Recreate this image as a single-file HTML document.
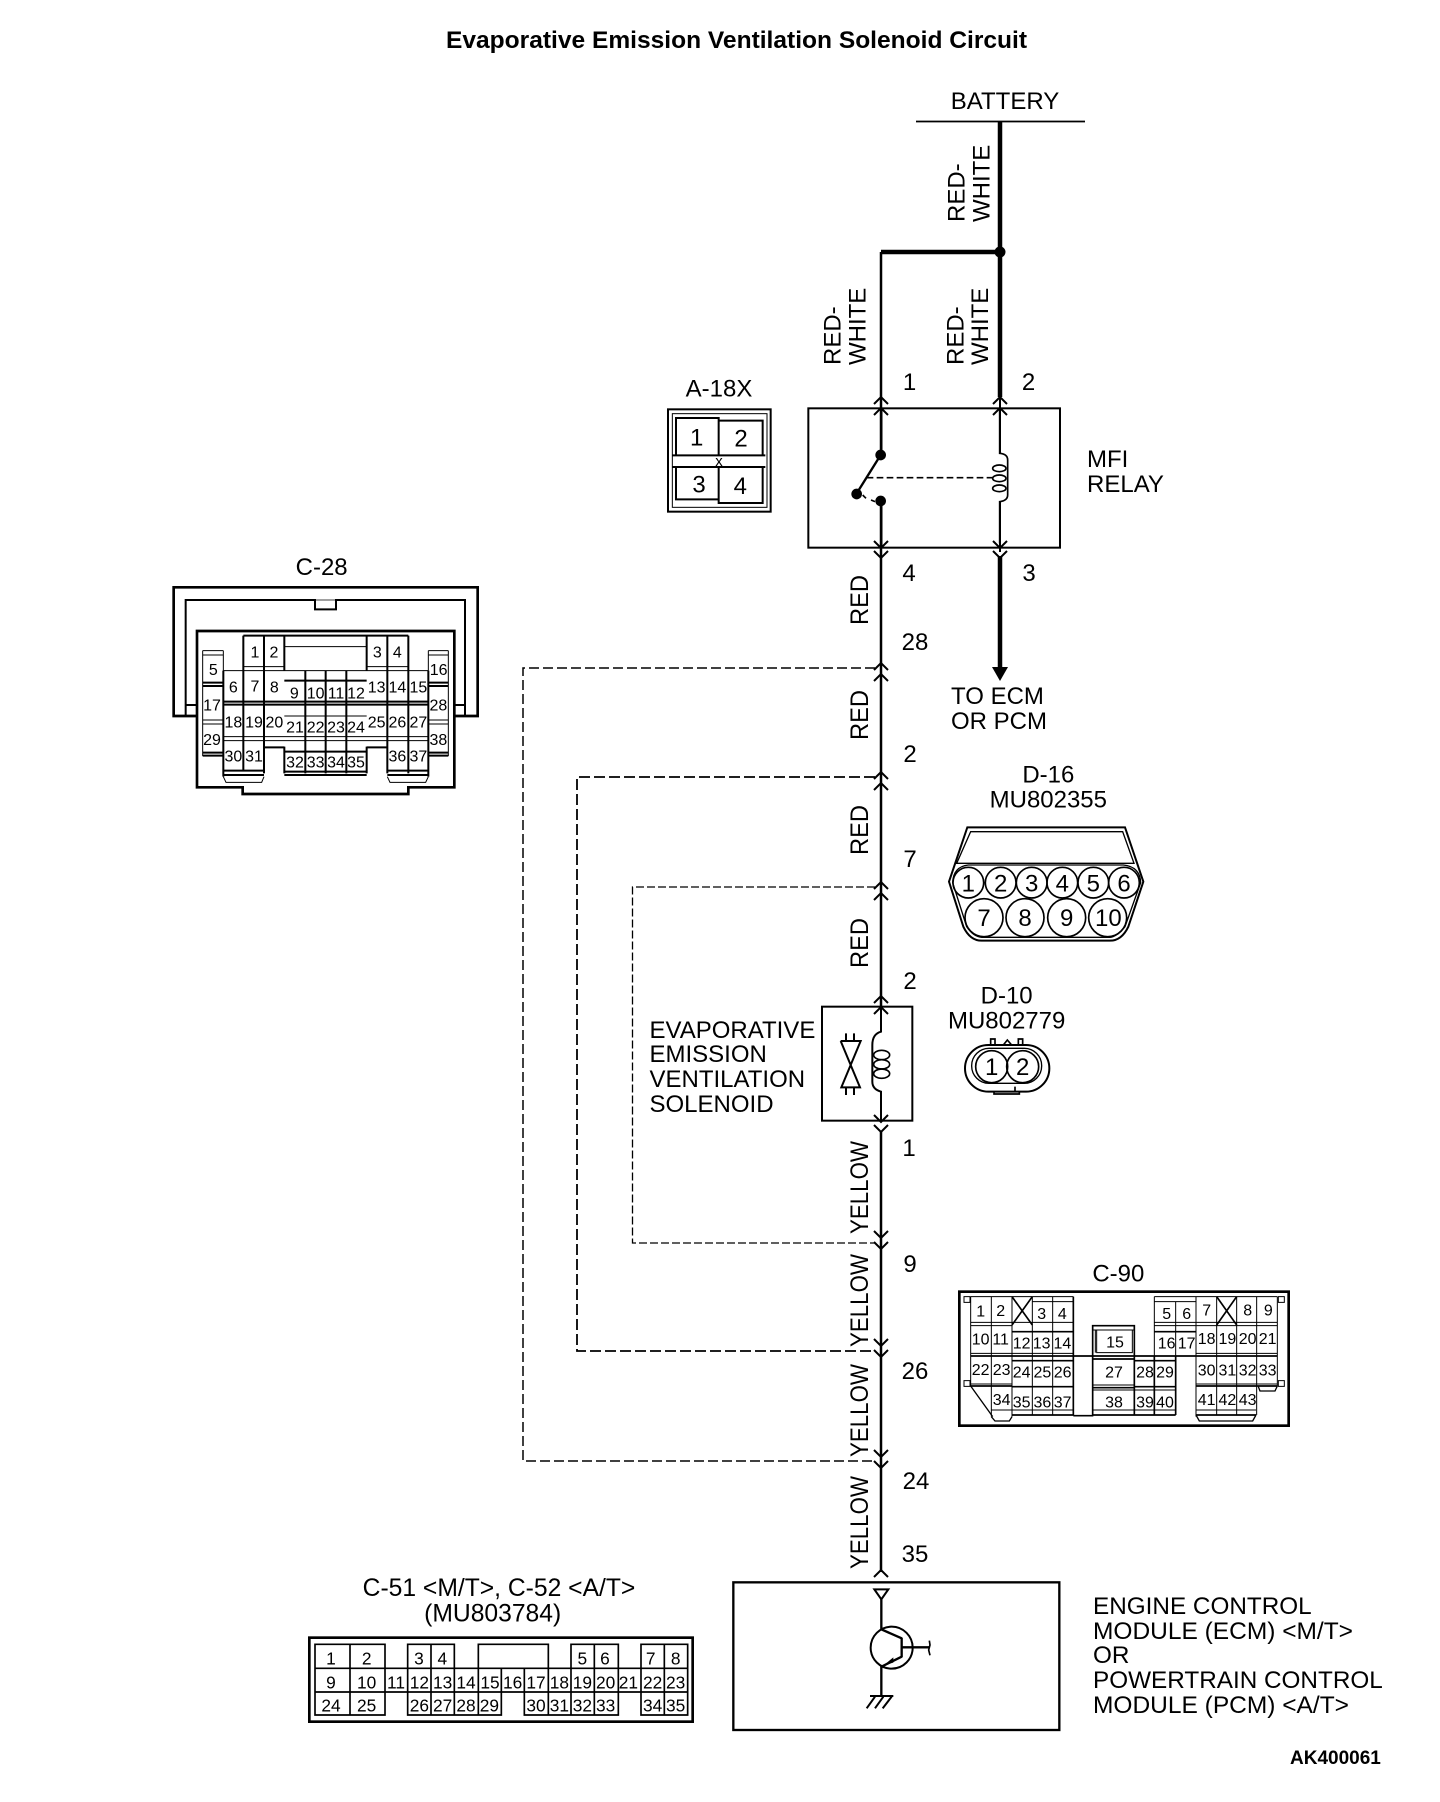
<!DOCTYPE html>
<html>
<head>
<meta charset="utf-8">
<title>Evaporative Emission Ventilation Solenoid Circuit</title>
<style>
html,body{margin:0;padding:0;background:#fff}
svg{display:block}
text{font-family:"Liberation Sans",sans-serif;fill:#000}
.m text{text-anchor:middle}
.n{fill:none;stroke:#000}
.t5{fill:none;stroke:#000;stroke-width:6}
.t3{fill:none;stroke:#000;stroke-width:3}
</style>
</head>
<body>
<svg xmlns="http://www.w3.org/2000/svg" width="1440" height="1802" viewBox="0 0 1440 1802">
<rect width="1440" height="1802" fill="#fff"/>
<defs>
<path id="up" d="M-7,7 L0,0 L7,7" fill="none" stroke="#000" stroke-width="2"/>
<path id="dn" d="M-7,-7 L0,0 L7,-7" fill="none" stroke="#000" stroke-width="2"/>
</defs>

<text x="736.500" y="48" font-size="24" font-weight="bold" text-anchor="middle" textLength="581" lengthAdjust="spacingAndGlyphs">Evaporative Emission Ventilation Solenoid Circuit</text>
<text x="1005" y="109" font-size="24" text-anchor="middle">BATTERY</text>
<line x1="916" y1="121.500" x2="1085" y2="121.500" stroke="#000" stroke-width="1.800"/>

<!-- main wires -->
<path class="n" stroke-width="4.500" d="M1000,121V397M881,252H1000"/>
<circle cx="1000" cy="252" r="5.500"/>
<path class="n" stroke-width="2.500" d="M881,252V455M881,501V1007"/>
<path class="n" stroke-width="2.500" d="M881,1132V1572"/>
<path class="n" stroke-width="2" d="M1000,397V453M1000,502V552"/>
<path class="n" stroke-width="4.500" d="M1000,556V668"/>
<polygon points="992,667 1008,667 1000,681"/>

<!-- rotated labels -->
<g font-size="24">
<text transform="translate(964.500,222) rotate(-90)">RED-</text>
<text transform="translate(989.500,222) rotate(-90)">WHITE</text>
<text transform="translate(840.500,365) rotate(-90)">RED-</text>
<text transform="translate(865.500,365) rotate(-90)">WHITE</text>
<text transform="translate(963.500,365) rotate(-90)">RED-</text>
<text transform="translate(988,365) rotate(-90)">WHITE</text>
<text transform="translate(868,625) rotate(-90)" font-size="25" textLength="50" lengthAdjust="spacingAndGlyphs">RED</text>
<text transform="translate(868,740) rotate(-90)" font-size="25" textLength="50" lengthAdjust="spacingAndGlyphs">RED</text>
<text transform="translate(868,855) rotate(-90)" font-size="25" textLength="50" lengthAdjust="spacingAndGlyphs">RED</text>
<text transform="translate(868,968) rotate(-90)" font-size="25" textLength="50" lengthAdjust="spacingAndGlyphs">RED</text>
<text transform="translate(868,1234) rotate(-90)" font-size="25" textLength="93" lengthAdjust="spacingAndGlyphs">YELLOW</text>
<text transform="translate(868,1347) rotate(-90)" font-size="25" textLength="93" lengthAdjust="spacingAndGlyphs">YELLOW</text>
<text transform="translate(868,1457) rotate(-90)" font-size="25" textLength="93" lengthAdjust="spacingAndGlyphs">YELLOW</text>
<text transform="translate(868,1569) rotate(-90)" font-size="25" textLength="93" lengthAdjust="spacingAndGlyphs">YELLOW</text>
</g>

<!-- wire numbers -->
<g font-size="24" class="m">
<text x="909.500" y="390">1</text>
<text x="1028.500" y="390">2</text>
<text x="909" y="581">4</text>
<text x="1029" y="581">3</text>
<text x="915" y="650">28</text>
<text x="910" y="762">2</text>
<text x="910" y="867">7</text>
<text x="910" y="989">2</text>
<text x="909" y="1156">1</text>
<text x="910" y="1272">9</text>
<text x="915" y="1379">26</text>
<text x="916" y="1489">24</text>
<text x="915" y="1562">35</text>
</g>
<g font-size="24">
<text x="1087" y="467">MFI</text>
<text x="1087" y="492">RELAY</text>
<text x="951" y="704">TO ECM</text>
<text x="951" y="729">OR PCM</text>
<text x="649.500" y="1038">EVAPORATIVE</text>
<text x="649.500" y="1062">EMISSION</text>
<text x="649.500" y="1087">VENTILATION</text>
<text x="649.500" y="1112">SOLENOID</text>
<text x="1093" y="1614" font-size="24.300">ENGINE CONTROL</text>
<text x="1093" y="1639" font-size="24.300" textLength="260" lengthAdjust="spacingAndGlyphs">MODULE (ECM) &lt;M/T&gt;</text>
<text x="1093" y="1663" font-size="24.300">OR</text>
<text x="1093" y="1688" font-size="24.300">POWERTRAIN CONTROL</text>
<text x="1093" y="1713" font-size="24.300" textLength="256" lengthAdjust="spacingAndGlyphs">MODULE (PCM) &lt;A/T&gt;</text>
</g>
<text x="1290" y="1764" font-size="19" font-weight="bold">AK400061</text>

<!-- dashed loops -->
<path class="n" stroke-width="1.500" stroke-dasharray="10 4" d="M875,668H523V1461H875"/>
<path class="n" stroke-width="1.800" stroke-dasharray="11 4" d="M875,777H577V1351H875"/>
<path class="n" stroke-width="1.300" stroke-dasharray="8 3" d="M875,887H632.500V1243H875"/>

<!-- chevrons -->
<use href="#up" x="881" y="397"/><use href="#up" x="881" y="408"/>
<use href="#up" x="1000" y="397"/><use href="#up" x="1000" y="408"/>
<use href="#dn" x="881" y="548"/><use href="#dn" x="881" y="558"/>
<use href="#dn" x="1000" y="548"/><use href="#dn" x="1000" y="558"/>
<use href="#up" x="881" y="663"/><use href="#up" x="881" y="674"/>
<use href="#up" x="881" y="772"/><use href="#up" x="881" y="783"/>
<use href="#up" x="881" y="882"/><use href="#up" x="881" y="893"/>
<use href="#up" x="881" y="996"/><use href="#up" x="881" y="1007"/>
<use href="#dn" x="881" y="1238"/><use href="#dn" x="881" y="1249"/>
<use href="#dn" x="881" y="1122"/><use href="#dn" x="881" y="1132"/>
<use href="#dn" x="881" y="1346"/><use href="#dn" x="881" y="1357"/>
<use href="#dn" x="881" y="1457"/><use href="#dn" x="881" y="1468"/>
<use href="#up" x="881" y="1570"/>

<!-- A-18X + relay, zoom coords -->
<g transform="translate(640,380) scale(.33333)">
<g class="m" font-size="72">
<text x="237" y="50">A-18X</text>
<text x="170" y="197">1</text><text x="303" y="200">2</text>
<text x="177" y="338">3</text><text x="301" y="342">4</text>
<text x="237" y="258" font-size="45">x</text>
</g>
<rect x="84" y="88" width="308" height="307" class="t5"/>
<rect x="97" y="101" width="284" height="281" class="t3"/>
<path class="t5" stroke-width="4" d="M108,225V114H236V225M236,122H368V225M108,262V358H236M236,262V369H368V262M236,114V225M236,262V369"/>
<path class="t5" d="M97,226H376M97,261H376"/>
<rect x="505" y="85" width="755" height="418" class="t5" stroke-width="6"/>
<path class="n" stroke-width="7" d="M724,90V225M724,363V500M722,225L650,340"/>
<circle cx="722" cy="225" r="16"/><circle cx="650" cy="342" r="16"/><circle cx="722" cy="363" r="16"/>
<path class="n" stroke-width="5" d="M668,345L678,355M693,360L705,365"/>
<path class="n" stroke-width="5" stroke-dasharray="20 10" d="M680,293H1060"/>
<path class="n" stroke-width="5" d="M1079,90V220Q1103,222 1103,240V345Q1103,362 1079,365V490"/>
<ellipse cx="1078" cy="265" rx="20" ry="10" class="n" stroke-width="5"/>
<ellipse cx="1078" cy="295" rx="20" ry="10" class="n" stroke-width="5"/>
<ellipse cx="1078" cy="325" rx="20" ry="10" class="n" stroke-width="5"/>
</g>

<!-- Solenoid -->
<g transform="translate(800,990) scale(.33333)">
<rect x="66" y="50" width="271" height="342" class="n" stroke-width="6"/>
<path class="n" stroke-width="6" d="M243,50V125Q217,132 217,165V275Q217,298 243,305V392"/>
<ellipse cx="245" cy="195" rx="24" ry="14" class="n" stroke-width="5"/>
<ellipse cx="245" cy="223" rx="24" ry="14" class="n" stroke-width="5"/>
<ellipse cx="245" cy="251" rx="24" ry="14" class="n" stroke-width="5"/>
<path class="n" stroke-width="6" d="M122,153H182L124,292H180L122,153M138,130V153M162,130V153M138,292V315M162,292V315"/>
</g>

<!-- C-28 -->
<g transform="translate(150,550) scale(.33333)">
<g class="m" font-size="72"><text x="515" y="75">C-28</text></g>
<path class="n" stroke-width="8" d="M140,498H71V112H983V498H913"/>
<path class="n" stroke-width="6" d="M107,498V150H495V178H558V150H945V498M107,465H140M913,465H945"/>
<path class="n" stroke-width="2" d="M495,150H558"/>
<path class="n" stroke-width="8" d="M141,243H913V712H775V732H278V712H141Z"/>
<path class="n" stroke-width="6" d="M280,257H775M280,257V662M342,257V590M403,257V362M403,590V670M650,257V362M650,590V670M712,257V670M775,257V670M466,362V670M527,362V670M589,362V670M220,362V680M342,590V670M835,362V680"/>
<path class="n" stroke-width="3" d="M403,290H650M280,350H403M650,350H775M220,362H835M158,302H220M835,302H895M158,315H220M835,315H895M158,302V618M895,302V618M220,302V362M835,302V362M403,498H650M158,510H220M835,510H895M158,522H220M835,522H895M220,560H835M220,572H835"/>
<path class="n" stroke-width="6" d="M403,392H650M158,398H220M158,408H220M835,398H895M835,408H895M220,455H835M220,464H835M342,592H403M650,592H712M158,608H220M158,617H220M835,608H895M835,617H895M403,605H650M220,662H342M712,662H835M403,665H650M403,675H650M220,675H342M712,675H835"/>
<path class="n" stroke-width="3" d="M220,680L228,697H335L342,680M712,680L720,697H827L835,680"/>
<g class="m" font-size="48">
<text x="315" y="322">1</text><text x="372" y="322">2</text><text x="682" y="322">3</text><text x="742" y="322">4</text>
<text x="190" y="375">5</text><text x="866" y="375">16</text>
<text x="250" y="427">6</text><text x="315" y="425">7</text><text x="373" y="427">8</text>
<text x="433" y="445">9</text><text x="497" y="445">10</text><text x="558" y="445">11</text><text x="618" y="445">12</text>
<text x="680" y="427">13</text><text x="742" y="427">14</text><text x="805" y="427">15</text>
<text x="186" y="482">17</text><text x="865" y="482">28</text>
<text x="250" y="533">18</text><text x="312" y="533">19</text><text x="373" y="533">20</text>
<text x="435" y="548">21</text><text x="497" y="548">22</text><text x="558" y="548">23</text><text x="618" y="548">24</text>
<text x="680" y="533">25</text><text x="742" y="533">26</text><text x="805" y="533">27</text>
<text x="186" y="585">29</text><text x="865" y="585">38</text>
<text x="250" y="635">30</text><text x="312" y="635">31</text>
<text x="435" y="653">32</text><text x="497" y="653">33</text><text x="558" y="653">34</text><text x="618" y="653">35</text>
<text x="742" y="635">36</text><text x="805" y="635">37</text>
</g>
</g>

<!-- D-16 / D-10 -->
<g transform="translate(940,750) scale(.33333)">
<g class="m" font-size="72">
<text x="325" y="98">D-16</text><text x="325" y="172">MU802355</text>
<text x="200" y="760">D-10</text><text x="200" y="835">MU802779</text>
</g>
<path class="n" stroke-width="6" d="M82,232H555L610,395L565,530Q545,572 510,572H125Q90,572 70,530L27,395Z"/>
<path class="n" stroke-width="4" d="M92,245H548L582,340H50Z"/>
<path class="n" stroke-width="4" d="M85,345H550Q600,350 602,398L555,530Q530,560 510,562H125Q100,560 80,530L38,398Q40,350 85,345Z"/>
<g class="n" stroke-width="5" fill="#fff">
<circle cx="85" cy="398" r="46" fill="none"/><circle cx="182" cy="398" r="46" fill="none"/><circle cx="275" cy="398" r="46" fill="none"/><circle cx="367" cy="398" r="46" fill="none"/><circle cx="460" cy="398" r="46" fill="none"/><circle cx="552" cy="398" r="46" fill="none"/>
<circle cx="132" cy="503" r="57" fill="none"/><circle cx="255" cy="503" r="57" fill="none"/><circle cx="380" cy="503" r="57" fill="none"/><circle cx="503" cy="503" r="57" fill="none"/>
</g>
<g class="m" font-size="72">
<text x="85" y="425">1</text><text x="182" y="425">2</text><text x="275" y="425">3</text><text x="367" y="425">4</text><text x="460" y="425">5</text><text x="552" y="425">6</text>
<text x="132" y="528">7</text><text x="255" y="528">8</text><text x="380" y="528">9</text><text x="505" y="528">10</text>
</g>
<rect x="75" y="885" width="253" height="140" rx="70" ry="70" class="n" stroke-width="6"/>
<rect x="95" y="895" width="210" height="105" rx="52" ry="52" class="n" stroke-width="4"/>
<circle cx="155" cy="950" r="48" class="n" stroke-width="5"/>
<circle cx="248" cy="950" r="48" class="n" stroke-width="5"/>
<path class="n" stroke-width="5" d="M152,885V867H165V885M235,885V867H248V885M190,885L202,870L215,885M162,1025V1032H238V1025M225,1010V1025"/>
<g class="m" font-size="72"><text x="155" y="975">1</text><text x="248" y="975">2</text></g>
</g>

<!-- C-90 -->
<g transform="translate(950,1260) scale(.33333)">
<g class="m" font-size="72"><text x="505" y="65">C-90</text></g>
<rect x="28" y="95" width="988" height="402" class="n" stroke-width="8"/>
<path class="n" stroke-width="3" d="M42,110H60V127H42ZM985,110H1003V127H985ZM42,362H60V379H42ZM985,362H1003V379H985Z"/>
<path class="n" stroke-width="3" d="M62,110V378M124,110V470M186,110V470M247,110V465M308,110V465M62,110H370M247,125H370M62,187H370M62,197H186M62,280H370M62,372H186M124,450H370"/>
<path class="n" stroke-width="3" d="M613,110H982M613,125H738M613,187H982M613,197H982M738,280H982M738,372H982M738,450H918M613,110V288M677,125V288M738,110V470M800,110V465M860,110V465M920,110V465M982,110V378"/>
<path class="n" stroke-width="5" d="M370,110V465M186,215H370M62,288H982M186,302H370M186,380H370M186,465H370M370,467H430M428,465H677M186,378H62"/>
<path class="n" stroke-width="5" d="M186,110L247,195M247,110L186,195M800,195L860,110M800,110L860,195"/>
<path class="n" stroke-width="4" d="M62,378L128,470M124,470L135,483H178L186,470M925,380L930,393H975L982,378M738,465L748,483H908L918,465"/>
<path class="n" stroke-width="5" d="M428,465V197H553V288M428,297H553M553,288V465M428,383H553M553,302H677M553,380H677M613,288V465M677,288V465M613,215H738M738,378H982M738,465H918"/>
<path class="n" stroke-width="3" d="M428,210H553M440,210V278H547V210M436,210V278M428,375H553M428,390H553M553,390H677M428,450H677"/>
<g class="m" font-size="48">
<text x="92" y="170">1</text><text x="152" y="168">2</text><text x="275" y="177">3</text><text x="337" y="177">4</text><text x="650" y="177">5</text><text x="710" y="177">6</text><text x="770" y="167">7</text><text x="893" y="167">8</text><text x="955" y="167">9</text>
<text x="92" y="254">10</text><text x="152" y="254">11</text><text x="215" y="265">12</text><text x="275" y="265">13</text><text x="337" y="265">14</text><text x="495" y="262">15</text><text x="650" y="265">16</text><text x="710" y="265">17</text><text x="770" y="252">18</text><text x="832" y="252">19</text><text x="893" y="252">20</text><text x="953" y="252">21</text>
<text x="92" y="345">22</text><text x="155" y="345">23</text><text x="215" y="352">24</text><text x="277" y="352">25</text><text x="338" y="352">26</text><text x="492" y="352">27</text><text x="585" y="352">28</text><text x="645" y="352">29</text><text x="770" y="347">30</text><text x="832" y="347">31</text><text x="893" y="347">32</text><text x="953" y="347">33</text>
<text x="155" y="435">34</text><text x="215" y="442">35</text><text x="277" y="442">36</text><text x="338" y="442">37</text><text x="492" y="442">38</text><text x="585" y="442">39</text><text x="645" y="442">40</text><text x="770" y="435">41</text><text x="832" y="435">42</text><text x="893" y="435">43</text>
</g>
</g>

<!-- C-51 -->
<g transform="translate(300,1570) scale(.33333)">
<g class="m" font-size="74"><text x="597" y="78">C-51 &lt;M/T&gt;, C-52 &lt;A/T&gt;</text><text x="578" y="155">(MU803784)</text></g>
<rect x="28" y="203" width="1150" height="252" class="n" stroke-width="8"/>
<path class="n" stroke-width="5" d="M45,295V223H255V295M150,223V435M323,295V223H463V295M393,223V435M535,295V223H745V295M813,295V223H955V295M883,223V435M1023,295V223H1163V295M1093,223V435M45,295H1163M45,366H1163M45,295V435H255V295M323,295V435H604V295M463,295V435M535,295V435M673,295V435H955V295M745,295V435M813,295V435M1023,295V435H1163V295M604,295V366M673,295V366M955,295V366"/>
<g class="m" font-size="52">
<text x="93" y="283">1</text><text x="200" y="283">2</text><text x="357" y="283">3</text><text x="427" y="283">4</text><text x="847" y="283">5</text><text x="915" y="283">6</text><text x="1052" y="283">7</text><text x="1127" y="283">8</text>
<text x="93" y="355">9</text><text x="200" y="355">10</text><text x="288" y="355">11</text><text x="358" y="355">12</text><text x="428" y="355">13</text><text x="498" y="355">14</text><text x="570" y="355">15</text><text x="638" y="355">16</text><text x="708" y="355">17</text><text x="778" y="355">18</text><text x="847" y="355">19</text><text x="917" y="355">20</text><text x="985" y="355">21</text><text x="1058" y="355">22</text><text x="1127" y="355">23</text>
<text x="93" y="425">24</text><text x="200" y="425">25</text><text x="358" y="425">26</text><text x="428" y="425">27</text><text x="498" y="425">28</text><text x="568" y="425">29</text><text x="708" y="425">30</text><text x="778" y="425">31</text><text x="847" y="425">32</text><text x="917" y="425">33</text><text x="1058" y="425">34</text><text x="1127" y="425">35</text>
</g>
</g>

<!-- ECM module -->
<g transform="translate(730,1570) scale(.33333)">
<rect x="10" y="37" width="978" height="443" class="n" stroke-width="7"/>
<polygon points="433,58 475,58 454,88" class="n" stroke-width="6" fill="none"/>
<path class="n" stroke-width="7" d="M454,88V178L515,205M515,203V262M515,260L454,290V378M515,232H598"/>
<circle cx="485" cy="233" r="63" class="n" stroke-width="6"/>
<polygon points="462,285 490,262 490,278"/>
<path class="n" stroke-width="5" d="M598,212L600,225L596,240L600,256"/>
<path class="n" stroke-width="6" d="M420,378H490M435,380L410,415M460,380L435,415M485,380L458,415"/>
</g>
</svg>
</body>
</html>
